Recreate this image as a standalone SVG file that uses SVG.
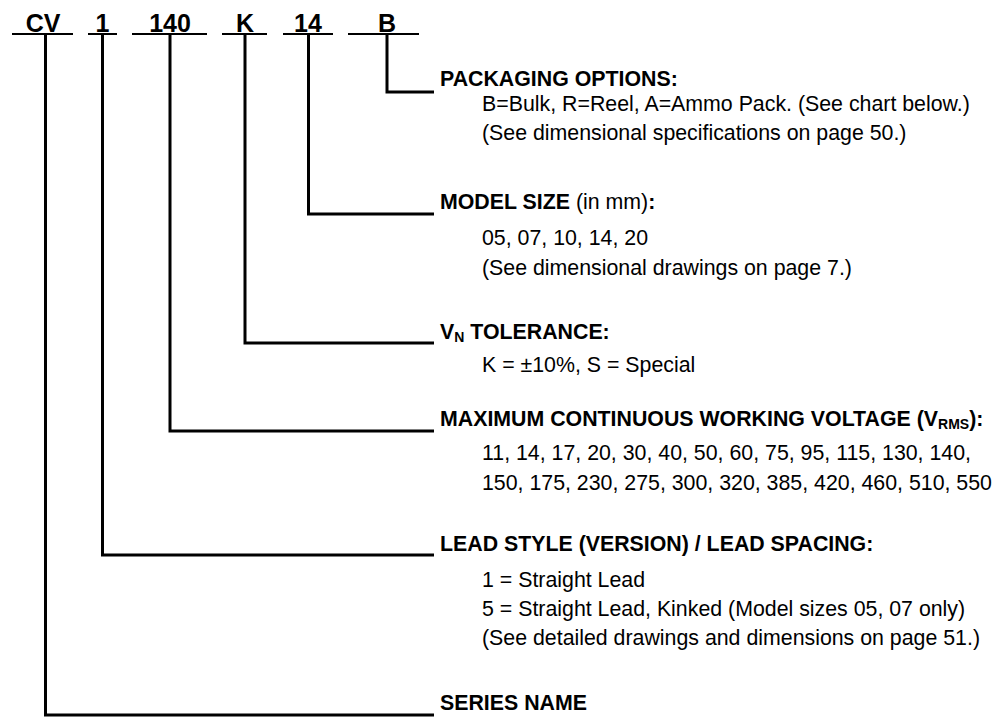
<svg xmlns="http://www.w3.org/2000/svg" width="993" height="717" viewBox="0 0 993 717">
<style>
text{font-family:"Liberation Sans",Arial,sans-serif;fill:#000}
.hd{font-size:25px;font-weight:bold;text-anchor:middle}
.lb{font-size:21.33px;font-weight:bold}
.bd{font-size:21.33px}
.sub{font-size:14px}
.ul{stroke:#000;stroke-width:2;fill:none}
.cn{stroke:#000;stroke-width:3;fill:none}
</style>
<rect width="993" height="717" fill="#fff"/>
<g id="header">
<text class="hd" x="43" y="31.5">CV</text>
<text class="hd" x="102.5" y="31.5">1</text>
<text class="hd" x="170" y="31.5">140</text>
<text class="hd" x="245" y="31.5">K</text>
<text class="hd" x="308" y="31.5">14</text>
<text class="hd" x="387" y="31.5">B</text>
<path class="ul" d="M12 34H73M88 34H117M132 34H207M222 34H267M283 34H333M348 34H419"/>
</g>
<g id="connectors">
<path class="cn" d="M387 35V92H434"/>
<path class="cn" d="M308.5 35V214H434"/>
<path class="cn" d="M245 35V343H434"/>
<path class="cn" d="M170 35V431H434"/>
<path class="cn" d="M102.5 35V555H434"/>
<path class="cn" d="M45.5 35V715H434"/>
</g>
<g id="packaging">
<text class="lb" x="440" y="86">PACKAGING OPTIONS:</text>
<text class="bd" x="482" y="111">B=Bulk, R=Reel, A=Ammo Pack. (See chart below.)</text>
<text class="bd" x="482" y="140">(See dimensional specifications on page 50.)</text>
</g>
<g id="model-size">
<text class="lb" x="440" y="209">MODEL SIZE<tspan font-weight="normal"> (in mm)</tspan>:</text>
<text class="bd" x="482" y="245">05, 07, 10, 14, 20</text>
<text class="bd" x="482" y="275">(See dimensional drawings on page 7.)</text>
</g>
<g id="tolerance">
<text class="lb" x="440" y="339">V<tspan class="sub" dy="3">N</tspan><tspan dy="-3"> TOLERANCE:</tspan></text>
<text class="bd" x="482" y="372">K = ±10%, S = Special</text>
</g>
<g id="voltage">
<text class="lb" x="440" y="426">MAXIMUM CONTINUOUS WORKING VOLTAGE (V<tspan class="sub" dy="3">RMS</tspan><tspan dy="-3">):</tspan></text>
<text class="bd" x="482" y="460">11, 14, 17, 20, 30, 40, 50, 60, 75, 95, 115, 130, 140,</text>
<text class="bd" x="482" y="490">150, 175, 230, 275, 300, 320, 385, 420, 460, 510, 550</text>
</g>
<g id="lead-style">
<text class="lb" x="440" y="551">LEAD STYLE (VERSION) / LEAD SPACING:</text>
<text class="bd" x="482" y="587">1 = Straight Lead</text>
<text class="bd" x="482" y="616">5 = Straight Lead, Kinked (Model sizes 05, 07 only)</text>
<text class="bd" x="482" y="645">(See detailed drawings and dimensions on page 51.)</text>
</g>
<g id="series">
<text class="lb" x="440" y="710">SERIES NAME</text>
</g>
</svg>
